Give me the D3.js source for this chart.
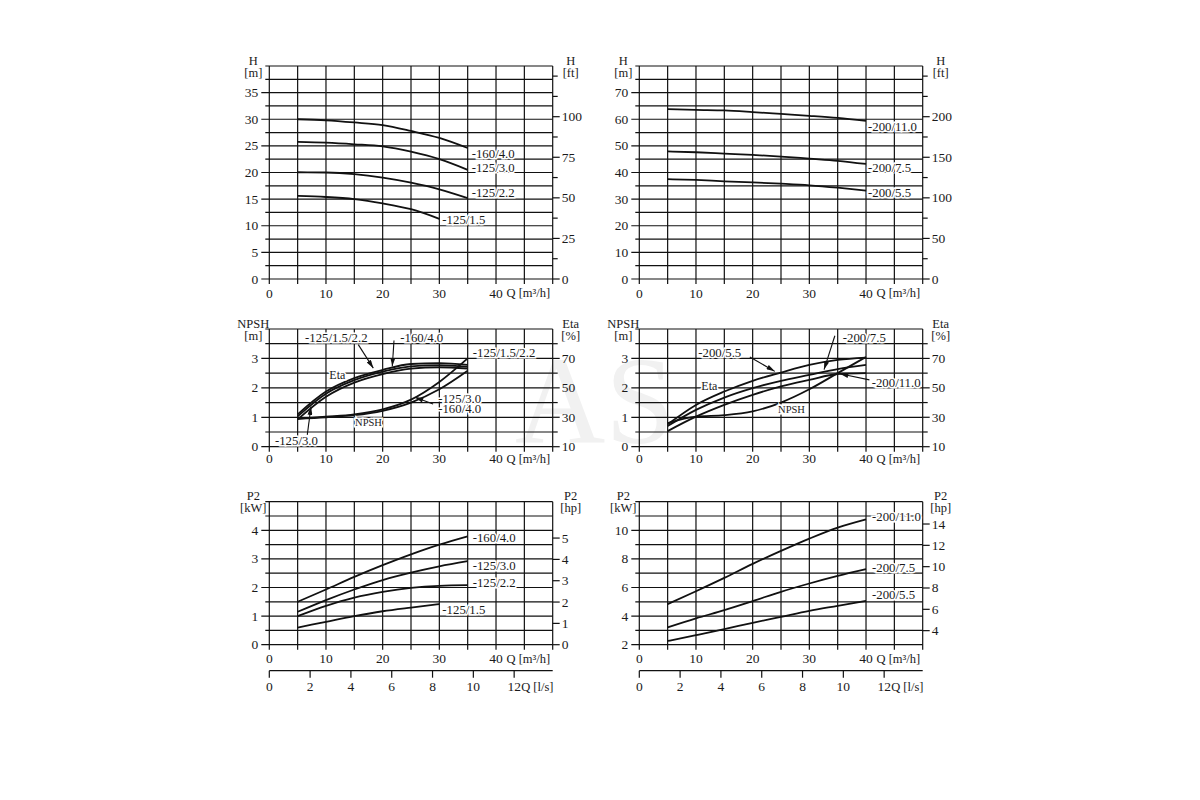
<!DOCTYPE html>
<html>
<head>
<meta charset="utf-8">
<script src="https://cdn.jsdelivr.net/npm/d3@7"></script>
<style>
  body { margin: 0; background: #fff; }
  svg text { font-family: "Liberation Serif", "Times New Roman", serif; fill: #1a1a1a; }
</style>
</head>
<body>
<svg id="chart" width="1200" height="800"></svg>
<script>
// flow points [m3/h]
const q30 = [5, 10, 15, 20, 25, 30];
const q35 = [5, 10, 15, 20, 25, 30, 35];
const q40 = [5, 10, 15, 20, 25, 30, 35, 40];

// head H [m], left panel
const h160_40 = [30.0, 29.8, 29.4, 28.9, 27.8, 26.5, 24.6];
const h125_30 = [25.75, 25.6, 25.3, 24.9, 23.9, 22.5, 20.5];
const h125_22 = [20.05, 20.0, 19.7, 19.05, 18.1, 16.85, 15.2];
const h125_15 = [15.6, 15.4, 15.0, 14.2, 13.1, 11.3];
// head H [m], right panel
const h200_110 = [63.8, 63.5, 63.3, 62.7, 62.0, 61.3, 60.5, 59.4];
const h200_75 = [47.9, 47.6, 47.1, 46.6, 46.0, 45.2, 44.4, 43.2];
const h200_55 = [37.5, 37.2, 36.7, 36.3, 35.8, 35.2, 34.3, 33.2];

// efficiency Eta [%] and NPSH [m], left panel
const eta125_1522 = [32.0, 47.5, 56.6, 62.2, 66.2, 66.8, 65.6];
const eta160_40 = [30.6, 46.0, 55.2, 61.0, 64.6, 65.4, 64.2];
const eta125_30 = [28.6, 44.0, 53.6, 59.4, 63.0, 64.0, 63.0];
const npsh125_1522 = [0.95, 1.02, 1.1, 1.27, 1.6, 2.2, 3.0];
const npsh125_30 = [0.95, 1.0, 1.07, 1.22, 1.5, 1.95, 2.58];
// efficiency Eta [%] and NPSH [m], right panel
const eta200_55 = [25.2, 38.4, 47.5, 54.8, 60.4, 65.6, 69.0, 70.6];
const eta200_75 = [24.0, 35.0, 43.4, 49.8, 54.8, 58.8, 62.8, 65.6];
const eta200_110 = [20.6, 30.4, 38.4, 45.2, 51.0, 55.4, 59.4, 60.0];
const npsh200 = [0.8, 1.02, 1.07, 1.2, 1.5, 1.95, 2.5, 3.05];

// power P2 [kW]
const p160_40 = [1.5, 1.93, 2.37, 2.78, 3.16, 3.5, 3.79];
const p125_30 = [1.15, 1.56, 1.93, 2.26, 2.52, 2.74, 2.92];
const p125_22 = [1.0, 1.36, 1.65, 1.85, 1.99, 2.06, 2.08];
const p125_15 = [0.6, 0.8, 1.0, 1.17, 1.3, 1.42];
const p200_110 = [4.84, 5.74, 6.67, 7.65, 8.56, 9.42, 10.19, 10.77];
const p200_75 = [3.21, 3.84, 4.42, 5.05, 5.70, 6.28, 6.81, 7.28];
const p200_55 = [2.26, 2.67, 3.09, 3.53, 3.95, 4.37, 4.72, 5.07];

// tick labels
const qLabels = [0, 10, 20, 30, 40];
const lpsLabels = [0, 2, 4, 6, 8, 10, 12];
const hLabelsL = [0, 5, 10, 15, 20, 25, 30, 35];
const hLabelsR = [0, 10, 20, 30, 40, 50, 60, 70];
const ftLabelsL = [0, 25, 50, 75, 100];
const ftLabelsR = [0, 50, 100, 150, 200];
const npshLabels = [0, 1, 2, 3];
const etaLabels = [10, 30, 50, 70];
const kwLabelsL = [0, 1, 2, 3, 4];
const kwLabelsR = [2, 4, 6, 8, 10];
const hpLabelsL = [0, 1, 2, 3, 4, 5];
const hpLabelsR = [4, 6, 8, 10, 12, 14];

const svg = d3.select('#chart');
const FT = 0.3048, HP = 0.7457;
const TICK_FONT = '13.5px';
const isIn = (arr, v) => arr.some(a => Math.abs(a - v) < 1e-6);

// arrow head
svg.append('defs').append('marker')
  .attr('id', 'arrow').attr('viewBox', '0 0 10 6')
  .attr('refX', 10).attr('refY', 3)
  .attr('markerWidth', 9).attr('markerHeight', 5)
  .attr('markerUnits', 'userSpaceOnUse')
  .attr('orient', 'auto')
  .append('path').attr('d', 'M0,0L10,3L0,6Z').attr('fill', '#111');

// faint watermark behind the panels
svg.append('text').text('AS')
  .attr('x', 515).attr('y', 443)
  .style('font-size', '125px').style('fill', '#f1f1f1');

const panel = (o) => {
  const x = d3.scaleLinear().domain([0, 50]).range([o.left, o.left + 283.4]);
  const y = d3.scaleLinear().domain(o.yDomain).range([o.bottom, o.top]);
  const y2 = d3.scaleLinear().domain(o.y2Domain).range([o.bottom, o.top]);
  const g = svg.append('g');

  // horizontal grid with left ticks
  const hLines = d3.range(o.yDomain[0], o.yDomain[1] + 1e-9, o.yGrid);
  g.selectAll('line.h').data(hLines).join('line')
    .attr('x1', d => x(0) - (isIn(o.yLabels, d) ? 8 : 4))
    .attr('x2', x(50))
    .attr('y1', d => y(d)).attr('y2', d => y(d))
    .attr('stroke', '#111').attr('stroke-width', 1.2);

  // vertical grid
  g.selectAll('line.v').data(d3.range(0, 51, 5)).join('line')
    .attr('x1', d => x(d)).attr('x2', d => x(d))
    .attr('y1', o.top).attr('y2', o.bottom + 5)
    .attr('stroke', '#111').attr('stroke-width', 1.2);

  // left labels
  g.selectAll('text.yl').data(o.yLabels).join('text')
    .attr('x', x(0) - 11).attr('y', d => y(d))
    .attr('text-anchor', 'end').attr('dominant-baseline', 'central')
    .style('font-size', TICK_FONT).text(d => d);

  // right ticks
  g.selectAll('line.r').data(o.y2Ticks).join('line')
    .attr('x1', x(50)).attr('x2', d => x(50) + (isIn(o.y2Labels, d) ? 7 : 5))
    .attr('y1', d => y2(d)).attr('y2', d => y2(d))
    .attr('stroke', '#111').attr('stroke-width', 1.2);
  g.selectAll('text.yr').data(o.y2Labels).join('text')
    .attr('x', x(50) + 9).attr('y', d => y2(d))
    .attr('dominant-baseline', 'central')
    .style('font-size', TICK_FONT).text(d => d);

  // axis titles
  [[o.title[0], x(0) - 16, o.title[1]], [o.title2[0], x(50) + 18, o.title2[1]]].forEach(([t, cx, u]) => {
    g.append('text').attr('x', cx).attr('y', o.top - 5.5).attr('text-anchor', 'middle')
      .attr('dominant-baseline', 'central').style('font-size', '12.5px').text(t);
    g.append('text').attr('x', cx).attr('y', o.top + 6.5).attr('text-anchor', 'middle')
      .attr('dominant-baseline', 'central').style('font-size', '12.5px').text(u);
  });

  // Q axis labels
  g.selectAll('text.q').data(qLabels).join('text')
    .attr('x', d => x(d)).attr('y', o.bottom + o.qDy)
    .attr('text-anchor', 'middle').attr('dominant-baseline', 'central')
    .style('font-size', TICK_FONT).text(d => d);
  g.append('text').attr('x', x(40) + 10.5).attr('y', o.bottom + o.qDy)
    .attr('dominant-baseline', 'central')
    .style('font-size', '12.5px').text('Q [m³/h]');

  // second flow axis in l/s
  if (o.lps) {
    const ly = o.bottom + 26;
    g.append('line').attr('x1', x(0)).attr('x2', x(50)).attr('y1', ly).attr('y2', ly)
      .attr('stroke', '#111').attr('stroke-width', 1.2);
    g.selectAll('line.l').data(lpsLabels).join('line')
      .attr('x1', d => x(d * 3.6)).attr('x2', d => x(d * 3.6))
      .attr('y1', ly).attr('y2', ly + 7)
      .attr('stroke', '#111').attr('stroke-width', 1.2);
    g.selectAll('text.l').data(lpsLabels).join('text')
      .attr('x', d => x(d * 3.6)).attr('y', ly + 16)
      .attr('text-anchor', 'middle').attr('dominant-baseline', 'central')
      .style('font-size', TICK_FONT).text(d => d);
    g.append('text').attr('x', x(12 * 3.6) + 7).attr('y', ly + 16)
      .attr('dominant-baseline', 'central')
      .style('font-size', '12.5px').text('Q [l/s]');
  }

  // curves
  o.series.forEach(s => {
    const sc = s.right ? y2 : y;
    const pts = s.q.map((q, i) => [q, s.v[i]]);
    g.append('path').datum(pts)
      .attr('d', d3.line().x(d => x(d[0])).y(d => sc(d[1])).curve(d3.curveMonotoneX))
      .attr('fill', 'none').attr('stroke', '#111').attr('stroke-width', 1.8);
    if (s.label) {
      const last = pts[pts.length - 1];
      g.append('text')
        .attr('x', x(last[0]) + (s.dx || 4)).attr('y', sc(last[1]) + (s.dy || 0))
        .attr('dominant-baseline', 'central')
        .style('font-size', '12.8px')
        .style('stroke', '#fff').style('stroke-width', 3).style('paint-order', 'stroke')
        .text(s.label);
    }
  });

  // annotations in data units (Q, left axis value)
  (o.notes || []).forEach(n => {
    n.lines.forEach((t, i) => {
      g.append('text')
        .attr('x', x(n.at[0])).attr('y', y(n.at[1]) + i * 10)
        .attr('text-anchor', n.anchor || 'start').attr('dominant-baseline', 'central')
        .style('font-size', n.size || '12.8px')
        .style('stroke', '#fff').style('stroke-width', 3).style('paint-order', 'stroke')
        .text(t);
    });
    if (n.arrow) {
      g.append('line')
        .attr('x1', x(n.arrow[0][0])).attr('y1', y(n.arrow[0][1]))
        .attr('x2', x(n.arrow[1][0])).attr('y2', y(n.arrow[1][1]))
        .attr('stroke', '#111').attr('stroke-width', 1.1)
        .attr('marker-end', 'url(#arrow)');
    }
  });
};

const L = 269.3, R = 639.3;

// head panels
panel({
  left: L, top: 66, bottom: 279, yDomain: [0, 40], yGrid: 2.5, yLabels: hLabelsL,
  y2Domain: [0, 40 / FT], y2Ticks: d3.range(0, 126, 12.5), y2Labels: ftLabelsL,
  title: ['H', '[m]'], title2: ['H', '[ft]'], qDy: 14,
  series: [
    { q: q35, v: h160_40, label: '-160/4.0', dy: 6 },
    { q: q35, v: h125_30, label: '-125/3.0', dy: -2 },
    { q: q35, v: h125_22, label: '-125/2.2', dy: -5 },
    { q: q30, v: h125_15, label: '-125/1.5', dy: 1, dx: 3 }
  ]
});
panel({
  left: R, top: 66, bottom: 279, yDomain: [0, 80], yGrid: 5, yLabels: hLabelsR,
  y2Domain: [0, 80 / FT], y2Ticks: d3.range(0, 251, 25), y2Labels: ftLabelsR,
  title: ['H', '[m]'], title2: ['H', '[ft]'], qDy: 14,
  series: [
    { q: q40, v: h200_110, label: '-200/11.0', dy: 6, dx: 2 },
    { q: q40, v: h200_75, label: '-200/7.5', dy: 4, dx: 2 },
    { q: q40, v: h200_55, label: '-200/5.5', dy: 2.5, dx: 2 }
  ]
});

// NPSH / efficiency panels
panel({
  left: L, top: 329, bottom: 446.7, yDomain: [0, 4], yGrid: 0.5, yLabels: npshLabels,
  y2Domain: [10, 90], y2Ticks: d3.range(10, 81, 10), y2Labels: etaLabels,
  title: ['NPSH', '[m]'], title2: ['Eta', '[%]'], qDy: 12,
  series: [
    { q: q35, v: eta125_1522, right: true },
    { q: q35, v: eta160_40, right: true },
    { q: q35, v: eta125_30, right: true },
    { q: q35, v: npsh125_1522 },
    { q: q35, v: npsh125_30 }
  ],
  notes: [
    { lines: ['-125/1.5/2.2'], at: [6.3, 3.7], arrow: [[15.7, 3.47], [18.35, 2.67]] },
    { lines: ['-160/4.0'], at: [23.1, 3.7], arrow: [[22.0, 3.61], [21.7, 2.73]] },
    { lines: ['Eta'], at: [12.0, 2.44], anchor: 'middle', size: '12px' },
    { lines: ['-125/1.5/2.2'], at: [35.9, 3.2] },
    { lines: ['-125/3.0', '-160/4.0'], at: [29.8, 1.62], arrow: [[28.9, 1.45], [25.7, 1.68]] },
    { lines: ['NPSH'], at: [17.5, 0.82], anchor: 'middle', size: '10.5px' },
    { lines: ['-125/3.0'], at: [1.0, 0.19], arrow: [[6.7, 0.4], [7.36, 1.36]] }
  ]
});
panel({
  left: R, top: 329, bottom: 446.7, yDomain: [0, 4], yGrid: 0.5, yLabels: npshLabels,
  y2Domain: [10, 90], y2Ticks: d3.range(10, 81, 10), y2Labels: etaLabels,
  title: ['NPSH', '[m]'], title2: ['Eta', '[%]'], qDy: 12,
  series: [
    { q: q40, v: eta200_55, right: true },
    { q: q40, v: eta200_75, right: true },
    { q: q40, v: eta200_110, right: true },
    { q: q40, v: npsh200 }
  ],
  notes: [
    { lines: ['-200/5.5'], at: [10.4, 3.2], arrow: [[19.5, 3.05], [23.9, 2.56]] },
    { lines: ['-200/7.5'], at: [35.9, 3.7], arrow: [[34.5, 3.77], [32.6, 2.62]] },
    { lines: ['-200/11.0'], at: [41.0, 2.18], arrow: [[40.6, 2.27], [35.4, 2.48]] },
    { lines: ['Eta'], at: [12.35, 2.07], anchor: 'middle', size: '12px' },
    { lines: ['NPSH'], at: [26.85, 1.28], anchor: 'middle', size: '10.5px' }
  ]
});

// power panels
panel({
  left: L, top: 501.7, bottom: 644.7, yDomain: [0, 5], yGrid: 0.5, yLabels: kwLabelsL,
  y2Domain: [0, 5 / HP], y2Ticks: hpLabelsL, y2Labels: hpLabelsL,
  title: ['P2', '[kW]'], title2: ['P2', '[hp]'], qDy: 14, lps: true,
  series: [
    { q: q35, v: p160_40, label: '-160/4.0', dy: 2, dx: 5 },
    { q: q35, v: p125_30, label: '-125/3.0', dy: 5, dx: 5 },
    { q: q35, v: p125_22, label: '-125/2.2', dy: -2.5, dx: 5 },
    { q: q30, v: p125_15, label: '-125/1.5', dy: 6, dx: 3 }
  ]
});
panel({
  left: R, top: 501.7, bottom: 644.7, yDomain: [2, 12], yGrid: 1, yLabels: kwLabelsR,
  y2Domain: [2 / HP, 12 / HP], y2Ticks: hpLabelsR, y2Labels: hpLabelsR,
  title: ['P2', '[kW]'], title2: ['P2', '[hp]'], qDy: 14, lps: true,
  series: [
    { q: q40, v: p200_110, label: '-200/11.0', dy: -2.5, dx: 6 },
    { q: q40, v: p200_75, label: '-200/7.5', dy: -1.5, dx: 6 },
    { q: q40, v: p200_55, label: '-200/5.5', dy: -6, dx: 6 }
  ]
});
</script>
</body>
</html>
